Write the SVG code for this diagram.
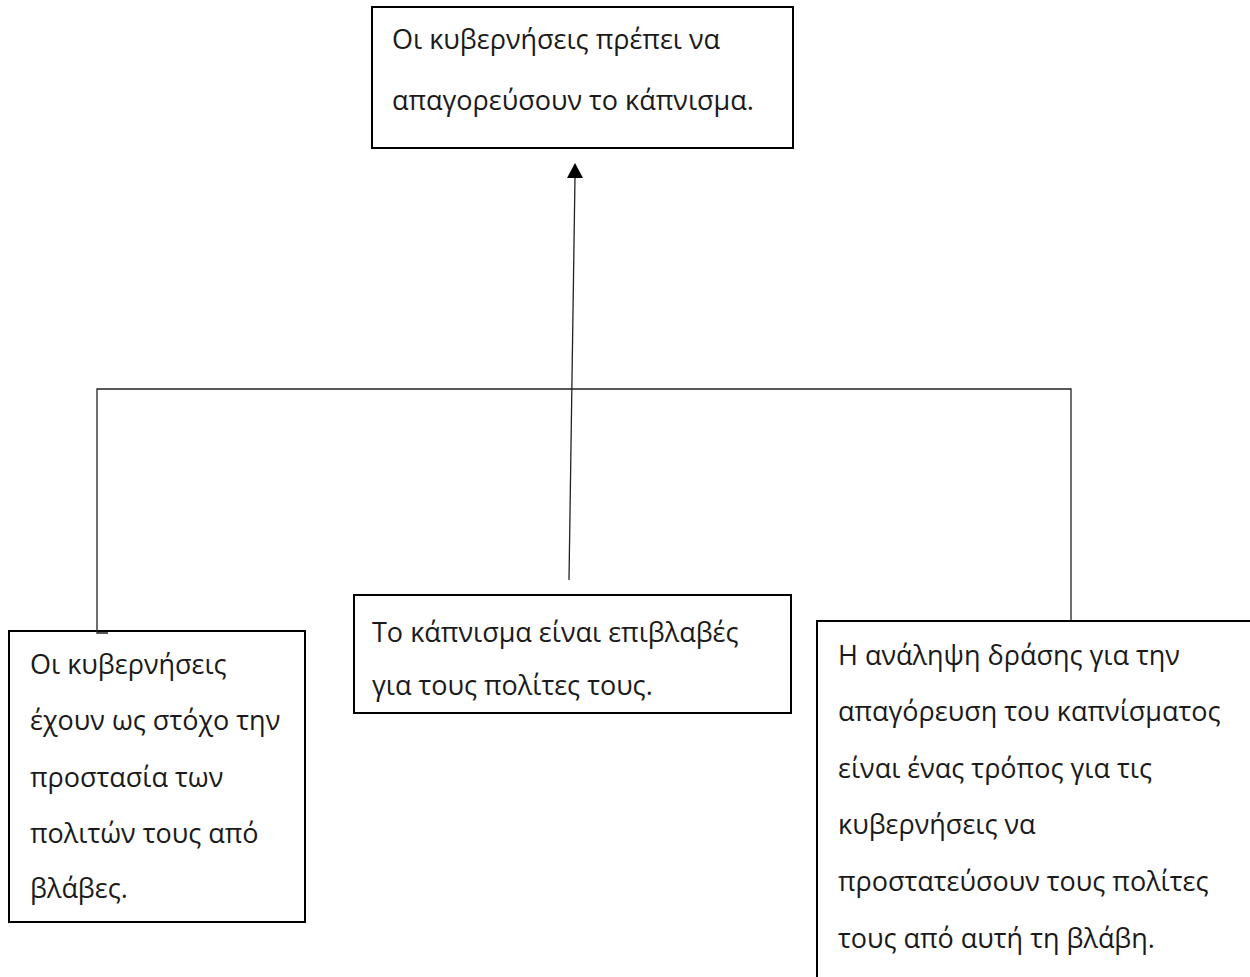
<svg xmlns="http://www.w3.org/2000/svg" width="1250" height="977" viewBox="0 0 1250 977">
<defs>
<style>
.box{fill:#fff;stroke:#000;stroke-width:2}
.t{font-family:"Open Sans","Noto Sans","DejaVu Sans",sans-serif;font-size:27px;fill:#1a1a1a}
.c{fill:none;stroke:#222;stroke-width:1.3}
</style>
</defs>
<rect width="1250" height="977" fill="#fff"/>
<g id="n-top">
<rect class="box" x="372" y="7" width="421" height="141"/>
<text class="t" x="392" y="49">Οι κυβερνήσεις πρέπει να</text>
<text class="t" x="392" y="110">απαγορεύσουν το κάπνισμα.</text>
</g>
<g id="n-left">
<rect class="box" x="9" y="631" width="296" height="291"/>
<text class="t" x="30" y="674">Οι κυβερνήσεις</text>
<text class="t" x="30" y="730">έχουν ως στόχο την</text>
<text class="t" x="30" y="787">προστασία των</text>
<text class="t" x="30" y="843">πολιτών τους από</text>
<text class="t" x="30" y="898">βλάβες.</text>
</g>
<g id="n-mid">
<rect class="box" x="354" y="595" width="437" height="118"/>
<text class="t" x="372" y="642">Το κάπνισμα είναι επιβλαβές</text>
<text class="t" x="372" y="695">για τους πολίτες τους.</text>
</g>
<g id="n-right">
<path class="box" d="M1252,621 L817,621 L817,980"/>
<text class="t" x="838" y="665">Η ανάληψη δράσης για την</text>
<text class="t" x="838" y="721">απαγόρευση του καπνίσματος</text>
<text class="t" x="838" y="778">είναι ένας τρόπος για τις</text>
<text class="t" x="838" y="834">κυβερνήσεις να</text>
<text class="t" x="838" y="891">προστατεύσουν τους πολίτες</text>
<text class="t" x="838" y="948">τους από αυτή τη βλάβη.</text>
</g>
<g id="connectors">
<polyline class="c" points="108,633 97,633 97,389 1071,389 1071,620"/>
<line class="c" x1="569" y1="580" x2="575" y2="177"/>
<path d="M567,178 L575,163 L583,178 Z" fill="#000"/>
</g>
</svg>
